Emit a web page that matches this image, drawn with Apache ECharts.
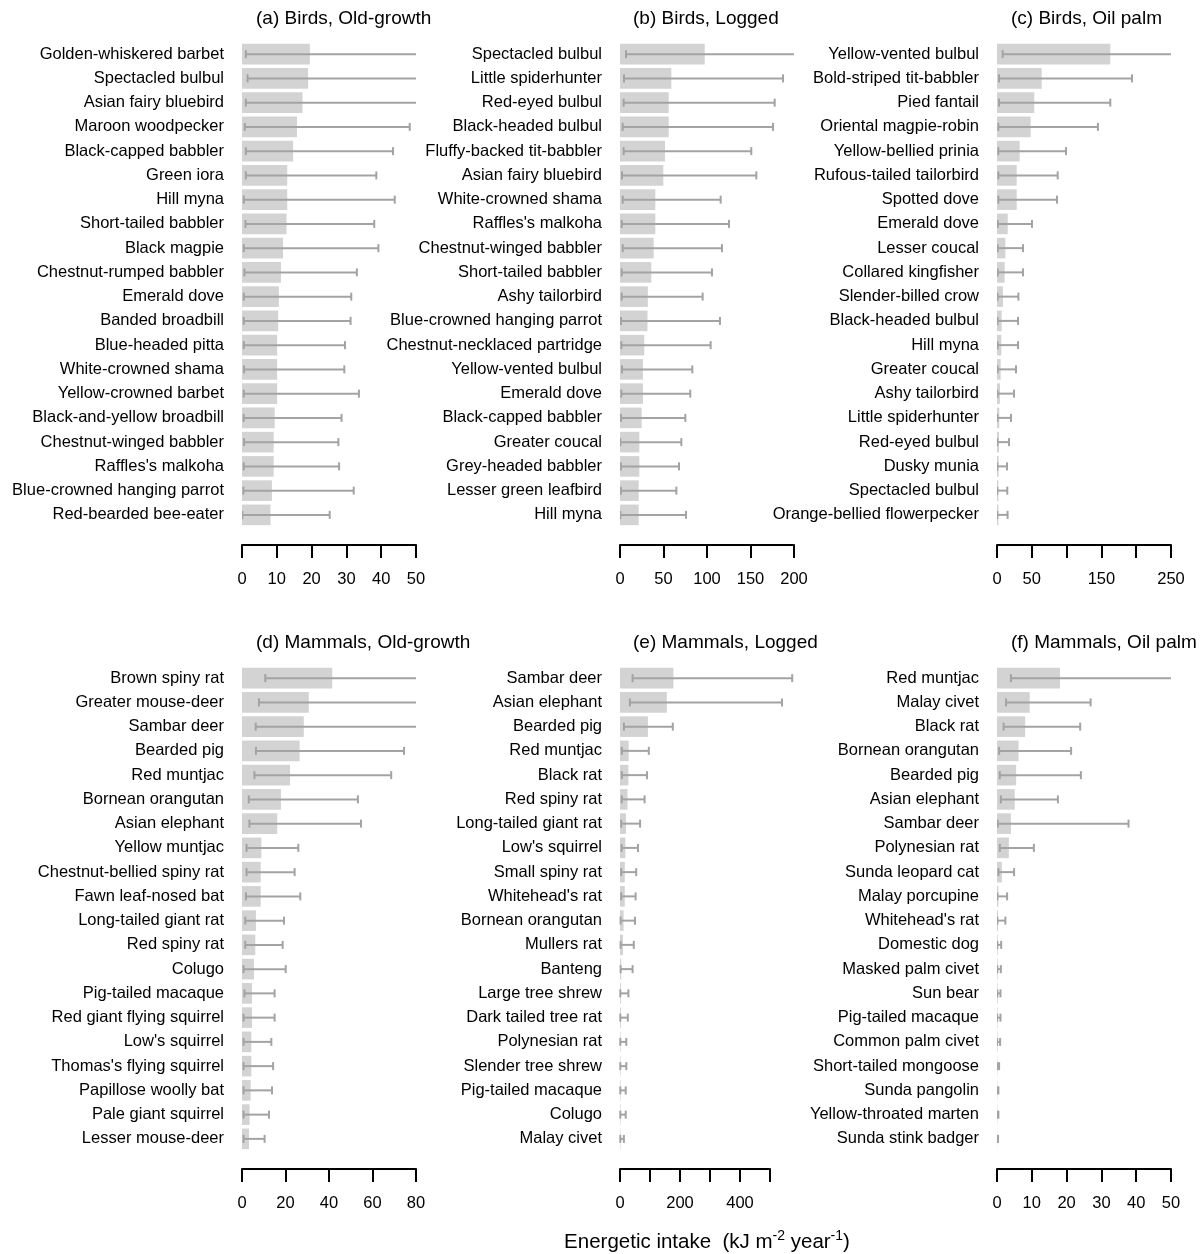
<!DOCTYPE html>
<html>
<head>
<meta charset="utf-8">
<title>Energetic intake</title>
<script src="https://cdn.jsdelivr.net/npm/echarts@6/dist/echarts.min.js"></script>
<style>
html, body { margin: 0; padding: 0; background: #fff; }
#chart { width: 1204px; height: 1254px; }
</style>
</head>
<body>
<div id="chart"></div>
<script>
// (a) Birds, Old-growth
var birdsOldNames = ['Golden-whiskered barbet', 'Spectacled bulbul', 'Asian fairy bluebird', 'Maroon woodpecker', 'Black-capped babbler', 'Green iora', 'Hill myna', 'Short-tailed babbler', 'Black magpie', 'Chestnut-rumped babbler', 'Emerald dove', 'Banded broadbill', 'Blue-headed pitta', 'White-crowned shama', 'Yellow-crowned barbet', 'Black-and-yellow broadbill', 'Chestnut-winged babbler', "Raffles's malkoha", 'Blue-crowned hanging parrot', 'Red-bearded bee-eater'];
var birdsOldMean = [19.5, 19.0, 17.4, 15.8, 14.7, 13.0, 13.0, 12.8, 11.8, 11.2, 10.6, 10.4, 10.1, 10.1, 10.1, 9.4, 9.1, 9.1, 8.6, 8.2];
var birdsOldLow = [1.1, 1.6, 1.1, 0.8, 1.1, 1.1, 0.5, 1.0, 0.5, 0.7, 0.5, 0.5, 0.5, 0.6, 0.5, 0.5, 0.6, 0.5, 0.4, 0.1];
var birdsOldHigh = [62, 58, 55, 48.2, 43.4, 38.6, 43.9, 38.0, 39.2, 33.0, 31.4, 31.2, 29.6, 29.4, 33.6, 28.6, 27.7, 27.9, 32.1, 25.2];

// (b) Birds, Logged
var birdsLoggedNames = ['Spectacled bulbul', 'Little spiderhunter', 'Red-eyed bulbul', 'Black-headed bulbul', 'Fluffy-backed tit-babbler', 'Asian fairy bluebird', 'White-crowned shama', "Raffles's malkoha", 'Chestnut-winged babbler', 'Short-tailed babbler', 'Ashy tailorbird', 'Blue-crowned hanging parrot', 'Chestnut-necklaced partridge', 'Yellow-vented bulbul', 'Emerald dove', 'Black-capped babbler', 'Greater coucal', 'Grey-headed babbler', 'Lesser green leafbird', 'Hill myna'];
var birdsLoggedMean = [97.4, 59.0, 56.0, 56.0, 51.7, 49.8, 40.6, 40.6, 38.7, 36.0, 32.0, 31.6, 27.9, 26.4, 26.4, 24.9, 22.2, 22.2, 21.5, 21.5];
var birdsLoggedLow = [6.9, 4.6, 4.2, 3.1, 4.2, 2.3, 3.1, 1.9, 3.1, 1.9, 1.9, 1.1, 1.5, 2.3, 1.5, 1.2, 0.4, 1.0, 1.0, 0.4];
var birdsLoggedHigh = [240, 187.4, 177.8, 175.9, 150.9, 156.7, 115.7, 125.3, 117.2, 105.7, 95.0, 114.9, 104.2, 83.1, 80.8, 75.1, 70.5, 67.8, 64.8, 75.9];

// (c) Birds, Oil palm
var birdsPalmNames = ['Yellow-vented bulbul', 'Bold-striped tit-babbler', 'Pied fantail', 'Oriental magpie-robin', 'Yellow-bellied prinia', 'Rufous-tailed tailorbird', 'Spotted dove', 'Emerald dove', 'Lesser coucal', 'Collared kingfisher', 'Slender-billed crow', 'Black-headed bulbul', 'Hill myna', 'Greater coucal', 'Ashy tailorbird', 'Little spiderhunter', 'Red-eyed bulbul', 'Dusky munia', 'Spectacled bulbul', 'Orange-bellied flowerpecker'];
var birdsPalmMean = [162.8, 64.2, 53.6, 48.4, 32.6, 28.3, 28.3, 15.4, 12.0, 11.0, 8.6, 6.7, 6.2, 5.3, 4.3, 3.3, 2.9, 2.4, 2.0, 2.0];
var birdsPalmLow = [8.1, 2.9, 2.9, 1.9, 1.9, 1.9, 1.9, 1.0, 1.0, 1.0, 0.8, 0.8, 0.8, 0.7, 0.6, 0.5, 0.5, 0.4, 0.4, 0.4];
var birdsPalmHigh = [300, 194, 162.8, 145, 99.1, 87.2, 86.2, 50.3, 37.4, 37.4, 30.7, 30.2, 30.2, 27.3, 24.4, 20.1, 17.2, 14.4, 14.8, 15.2];

// (d) Mammals, Old-growth
var mamOldNames = ['Brown spiny rat', 'Greater mouse-deer', 'Sambar deer', 'Bearded pig', 'Red muntjac', 'Bornean orangutan', 'Asian elephant', 'Yellow muntjac', 'Chestnut-bellied spiny rat', 'Fawn leaf-nosed bat', 'Long-tailed giant rat', 'Red spiny rat', 'Colugo', 'Pig-tailed macaque', 'Red giant flying squirrel', "Low's squirrel", "Thomas's flying squirrel", 'Papillose woolly bat', 'Pale giant squirrel', 'Lesser mouse-deer'];
var mamOldMean = [41.5, 30.7, 28.4, 26.5, 22.1, 17.9, 16.2, 8.9, 8.6, 8.6, 6.4, 6.1, 5.5, 4.6, 4.6, 4.3, 4.3, 4.0, 3.5, 3.2];
var mamOldLow = [10.7, 7.8, 6.3, 6.4, 5.7, 3.1, 3.4, 2.1, 2.1, 1.8, 1.5, 1.5, 0.7, 1.1, 0.7, 0.7, 0.7, 0.7, 0.7, 0.7];
var mamOldHigh = [110, 95, 90, 74.5, 68.6, 53.3, 54.7, 25.9, 24.2, 26.8, 19.3, 18.7, 20.1, 15.0, 15.0, 13.5, 14.3, 13.8, 12.4, 10.4];

// (e) Mammals, Logged
var mamLoggedNames = ['Sambar deer', 'Asian elephant', 'Bearded pig', 'Red muntjac', 'Black rat', 'Red spiny rat', 'Long-tailed giant rat', "Low's squirrel", 'Small spiny rat', "Whitehead's rat", 'Bornean orangutan', 'Mullers rat', 'Banteng', 'Large tree shrew', 'Dark tailed tree rat', 'Polynesian rat', 'Slender tree shrew', 'Pig-tailed macaque', 'Colugo', 'Malay civet'];
var mamLoggedMean = [178, 156, 93, 29, 28, 25, 20, 18, 16, 16, 12, 10, 4, 3, 3, 2, 2, 2, 2, 1.5];
var mamLoggedLow = [42, 33, 13, 6, 6, 6, 4, 5, 4, 4, 2, 2, 2, 1, 1, 1, 1, 1, 1, 1];
var mamLoggedHigh = [574, 540, 176, 96, 90, 82, 67, 60, 54, 52, 50, 46, 42, 28, 26, 21, 21, 19, 19, 13];

// (f) Mammals, Oil palm
var mamPalmNames = ['Red muntjac', 'Malay civet', 'Black rat', 'Bornean orangutan', 'Bearded pig', 'Asian elephant', 'Sambar deer', 'Polynesian rat', 'Sunda leopard cat', 'Malay porcupine', "Whitehead's rat", 'Domestic dog', 'Masked palm civet', 'Sun bear', 'Pig-tailed macaque', 'Common palm civet', 'Short-tailed mongoose', 'Sunda pangolin', 'Yellow-throated marten', 'Sunda stink badger'];
var mamPalmMean = [18.1, 9.4, 8.1, 6.2, 5.5, 5.1, 4.0, 3.4, 1.4, 0.4, 0.3, 0.2, 0.2, 0.2, 0.15, 0.15, 0.1, 0.1, 0.1, 0.05];
var mamPalmLow = [4.0, 2.6, 1.9, 0.6, 0.8, 1.1, 0.2, 0.8, 0.4, 0.1, 0.1, 0.1, 0.1, 0.1, 0.05, 0.05, 0.03, 0.02, 0.02, 0.01];
var mamPalmHigh = [60, 26.9, 23.9, 21.3, 24.1, 17.5, 37.8, 10.6, 4.9, 2.9, 2.4, 1.2, 1.1, 1.0, 1.0, 0.9, 0.6, 0.4, 0.4, 0.3];

// x axis ticks (R drops labels that would overlap)
var ticksA = ['0', '10', '20', '30', '40', '50'];
var ticksB = ['0', '50', '100', '150', '200'];
var ticksC = ['0', '50', '', '150', '', '250'];
var ticksD = ['0', '20', '40', '60', '80'];
var ticksE = ['0', '', '200', '', '400', ''];
var ticksF = ['0', '10', '20', '30', '40', '50'];

var panels = [
  { title: '(a) Birds, Old-growth', names: birdsOldNames, mean: birdsOldMean, low: birdsOldLow, high: birdsOldHigh, max: 50, step: 10, ticks: ticksA },
  { title: '(b) Birds, Logged', names: birdsLoggedNames, mean: birdsLoggedMean, low: birdsLoggedLow, high: birdsLoggedHigh, max: 200, step: 50, ticks: ticksB },
  { title: '(c) Birds, Oil palm', names: birdsPalmNames, mean: birdsPalmMean, low: birdsPalmLow, high: birdsPalmHigh, max: 250, step: 50, ticks: ticksC },
  { title: '(d) Mammals, Old-growth', names: mamOldNames, mean: mamOldMean, low: mamOldLow, high: mamOldHigh, max: 80, step: 20, ticks: ticksD },
  { title: '(e) Mammals, Logged', names: mamLoggedNames, mean: mamLoggedMean, low: mamLoggedLow, high: mamLoggedHigh, max: 500, step: 100, ticks: ticksE },
  { title: '(f) Mammals, Oil palm', names: mamPalmNames, mean: mamPalmMean, low: mamPalmLow, high: mamPalmHigh, max: 50, step: 10, ticks: ticksF }
];

var FONT = '"Liberation Sans", Arial, sans-serif';
var colLeft = [242, 620, 997];
var titleLeft = [256, 633, 1011];
var rowTop = [42, 666];
var titleTop = [9, 633];
var plotH = 485;

function renderErr(params, api) {
  var y = api.value(0);
  var p1 = api.coord([api.value(1), y]);
  var p2 = api.coord([api.value(2), y]);
  var h = 4;
  var st = { stroke: '#a3a3a3', lineWidth: 2 };
  return {
    type: 'group',
    children: [
      { type: 'line', shape: { x1: p1[0], y1: p1[1], x2: p2[0], y2: p2[1] }, style: st },
      { type: 'line', shape: { x1: p1[0], y1: p1[1] - h, x2: p1[0], y2: p1[1] + h }, style: st },
      { type: 'line', shape: { x1: p2[0], y1: p2[1] - h, x2: p2[0], y2: p2[1] + h }, style: st }
    ]
  };
}

var grid = [], xAxis = [], yAxis = [], series = [], title = [];
panels.forEach(function (p, i) {
  var col = i % 3, row = Math.floor(i / 3);
  // panel (e): axis stops at 500 but the plot region is wider, so bars are not clipped
  var w = (i === 4) ? 150 : 174;
  grid.push({ left: colLeft[col], top: rowTop[row], width: w, height: plotH });
  title.push({
    text: p.title, left: titleLeft[col], top: titleTop[row], padding: 0,
    textStyle: { fontSize: 19, fontWeight: 'normal', color: '#000', fontFamily: FONT }
  });
  xAxis.push({
    gridIndex: i, type: 'value', min: 0, max: p.max, interval: p.step,
    position: 'bottom', offset: 18,
    axisLine: { show: true, lineStyle: { color: '#000', width: 2 } },
    axisTick: { show: true, length: 13, lineStyle: { color: '#000', width: 2 } },
    splitLine: { show: false },
    axisLabel: {
      margin: 26, fontSize: 16.5, color: '#000', fontFamily: FONT, showMinLabel: true, showMaxLabel: true,
      formatter: function (v) { return p.ticks[Math.round(v / p.step)]; }
    }
  });
  yAxis.push({
    gridIndex: i, type: 'category', inverse: true, data: p.names,
    axisLine: { show: false }, axisTick: { show: false },
    axisLabel: { margin: 18, fontSize: 16.5, color: '#000', fontFamily: FONT, interval: 0 }
  });
  series.push({
    type: 'bar', xAxisIndex: i, yAxisIndex: i, data: p.mean,
    barCategoryGap: '15%', itemStyle: { color: '#d3d3d3' }, silent: true
  });
  series.push({
    type: 'custom', xAxisIndex: i, yAxisIndex: i,
    clip: i !== 4,
    renderItem: renderErr,
    encode: { y: 0, x: [1, 2] },
    data: p.names.map(function (n, k) { return [k, p.low[k], p.high[k]]; }),
    silent: true, z: 3
  });
});

var chart = echarts.init(document.getElementById('chart'));
chart.setOption({
  animation: false,
  backgroundColor: '#fff',
  title: title,
  grid: grid,
  xAxis: xAxis,
  yAxis: yAxis,
  series: series,
  graphic: [{
    type: 'text', x: 707, y: 1242,
    style: {
      text: '{a|Energetic intake  (kJ m}{s|-2}{a| year}{s|-1}{a|)}',
      align: 'center', verticalAlign: 'middle',
      rich: {
        a: { fontSize: 20.5, fontFamily: FONT, fill: '#000', lineHeight: 26 },
        s: { fontSize: 14, fontFamily: FONT, fill: '#000', verticalAlign: 'top', lineHeight: 26, padding: [0, 0, 11, 0] }
      }
    }
  }]
});
</script>
</body>
</html>
